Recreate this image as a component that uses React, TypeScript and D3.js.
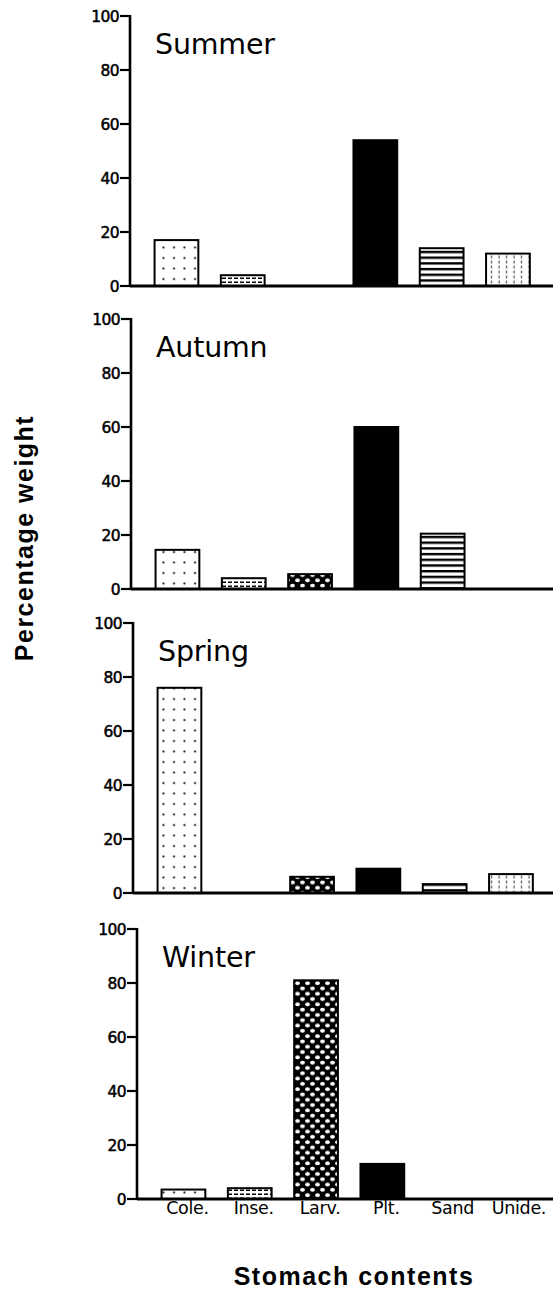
import React from 'react';
import * as d3 from 'd3';

const categories = ['Cole.', 'Inse.', 'Larv.', 'Plt.', 'Sand', 'Unide.'];
const seasons = ['Summer', 'Autumn', 'Spring', 'Winter'];
const summerValues = [17, 4, 0, 54, 14, 12];
const autumnValues = [14.5, 4, 5.5, 60, 20.5, 0];
const springValues = [76, 0, 6, 9, 3.3, 7];
const winterValues = [3.5, 4, 81, 13, 0, 0];
const yTicks = [0, 20, 40, 60, 80, 100];
const xTitle = 'Stomach contents';
const yTitle = 'Percentage weight';

const seriesValues = [summerValues, autumnValues, springValues, winterValues];

const W = 553;
const H = 1293;
const panelAxisX = [130, 131, 133, 137];
const panelTop = [16, 319, 623, 929];
const panelH = 270;
const patternIds = ['pCole', 'pInse', 'pLarv', 'pPlt', 'pSand', 'pUnide'];

function Panel({ idx }: { idx: number }) {
  const ax = panelAxisX[idx];
  const top = panelTop[idx];
  const y = d3.scaleLinear().domain([0, 100]).range([top + panelH, top]);
  const x = d3
    .scaleBand<string>()
    .domain(categories)
    .range([ax + 13.3, ax + 13.3 + 6 * 66.3])
    .paddingInner(0.34)
    .paddingOuter(0.17);
  const vals = seriesValues[idx];
  const y0 = y(0);
  return (
    <g>
      {vals.map((v, i) =>
        v > 0 ? (
          <rect
            key={i}
            x={x(categories[i])!}
            y={y(v)}
            width={x.bandwidth()}
            height={y0 - y(v)}
            fill={i === 3 ? '#000' : `url(#${patternIds[i]})`}
            stroke="#000"
            strokeWidth={2}
          />
        ) : null
      )}
      <line x1={ax} x2={W} y1={y0} y2={y0} stroke="#000" strokeWidth={2.8} />
      <line x1={ax} x2={ax} y1={y(100) - 1} y2={y0 + 1} stroke="#000" strokeWidth={2.6} />
      {yTicks.map((t) => (
        <g key={t}>
          <line x1={ax - 10} x2={ax} y1={y(t)} y2={y(t)} stroke="#000" strokeWidth={2.2} />
          <text
            x={ax - 11}
            y={y(t)}
            dy="0.36em"
            textAnchor="end"
            fontFamily="DejaVu Sans, sans-serif"
            fontSize={15.5}
            letterSpacing={-0.6}
            stroke="#000"
            strokeWidth={0.5}
            fill="#000"
          >
            {t}
          </text>
        </g>
      ))}
      <text
        x={ax + 25}
        y={top + 38}
        fontFamily="DejaVu Sans, sans-serif"
        fontSize={28.5}
        letterSpacing={-0.2}
        fill="#000"
      >
        {seasons[idx]}
      </text>
      {idx === 3 &&
        categories.map((c) => (
          <text
            key={c}
            x={x(c)! + x.bandwidth() / 2 + 4}
            y={y0 + 15}
            textAnchor="middle"
            fontFamily="DejaVu Sans, sans-serif"
            fontSize={17.5}
            letterSpacing={-0.3}
            fill="#000"
          >
            {c}
          </text>
        ))}
    </g>
  );
}

export default function App() {
  return (
    <svg
      width={W}
      height={H}
      viewBox={`0 0 ${W} ${H}`}
      style={{ position: 'absolute', left: 0, top: 0, background: '#fff' }}
    >
      <defs>
        <pattern id="pCole" width={10.5} height={10.5} patternUnits="userSpaceOnUse">
          <rect width={10.5} height={10.5} fill="#fff" />
          <circle cx={6} cy={6} r={1.1} fill="#000" />
        </pattern>
        <pattern id="pInse" width={6} height={4} patternUnits="userSpaceOnUse">
          <rect width={6} height={4} fill="#fff" />
          <rect x={0} y={1.5} width={4} height={1.5} fill="#000" />
        </pattern>
        <pattern id="pLarv" width={10} height={10.6} patternUnits="userSpaceOnUse">
          <rect width={10} height={10.6} fill="#000" />
          <ellipse cx={2.5} cy={2.6} rx={2.4} ry={1.9} fill="#fff" />
          <ellipse cx={7.5} cy={7.9} rx={2.4} ry={1.9} fill="#fff" />
        </pattern>
        <pattern id="pSand" width={6} height={5.7} patternUnits="userSpaceOnUse">
          <rect width={6} height={5.7} fill="#fff" />
          <rect x={0} y={0} width={6} height={2.4} fill="#000" />
        </pattern>
        <pattern id="pUnide" width={7.5} height={5} patternUnits="userSpaceOnUse">
          <rect width={7.5} height={5} fill="#fff" />
          <rect x={3.5} y={0.5} width={1.2} height={3} fill="#555" />
        </pattern>
      </defs>
      <rect width={W} height={H} fill="#fff" />
      {seasons.map((s, i) => (
        <Panel key={s} idx={i} />
      ))}
      <text
        transform={`translate(33,538) rotate(-90)`}
        textAnchor="middle"
        fontFamily="Liberation Sans, Arial, sans-serif"
        fontWeight="bold"
        fontSize={25}
        letterSpacing={1.5}
        fill="#000"
      >
        {yTitle}
      </text>
      <text
        x={354}
        y={1285}
        textAnchor="middle"
        fontFamily="Liberation Sans, Arial, sans-serif"
        fontWeight="bold"
        fontSize={25}
        letterSpacing={1.5}
        fill="#000"
      >
        {xTitle}
      </text>
    </svg>
  );
}
